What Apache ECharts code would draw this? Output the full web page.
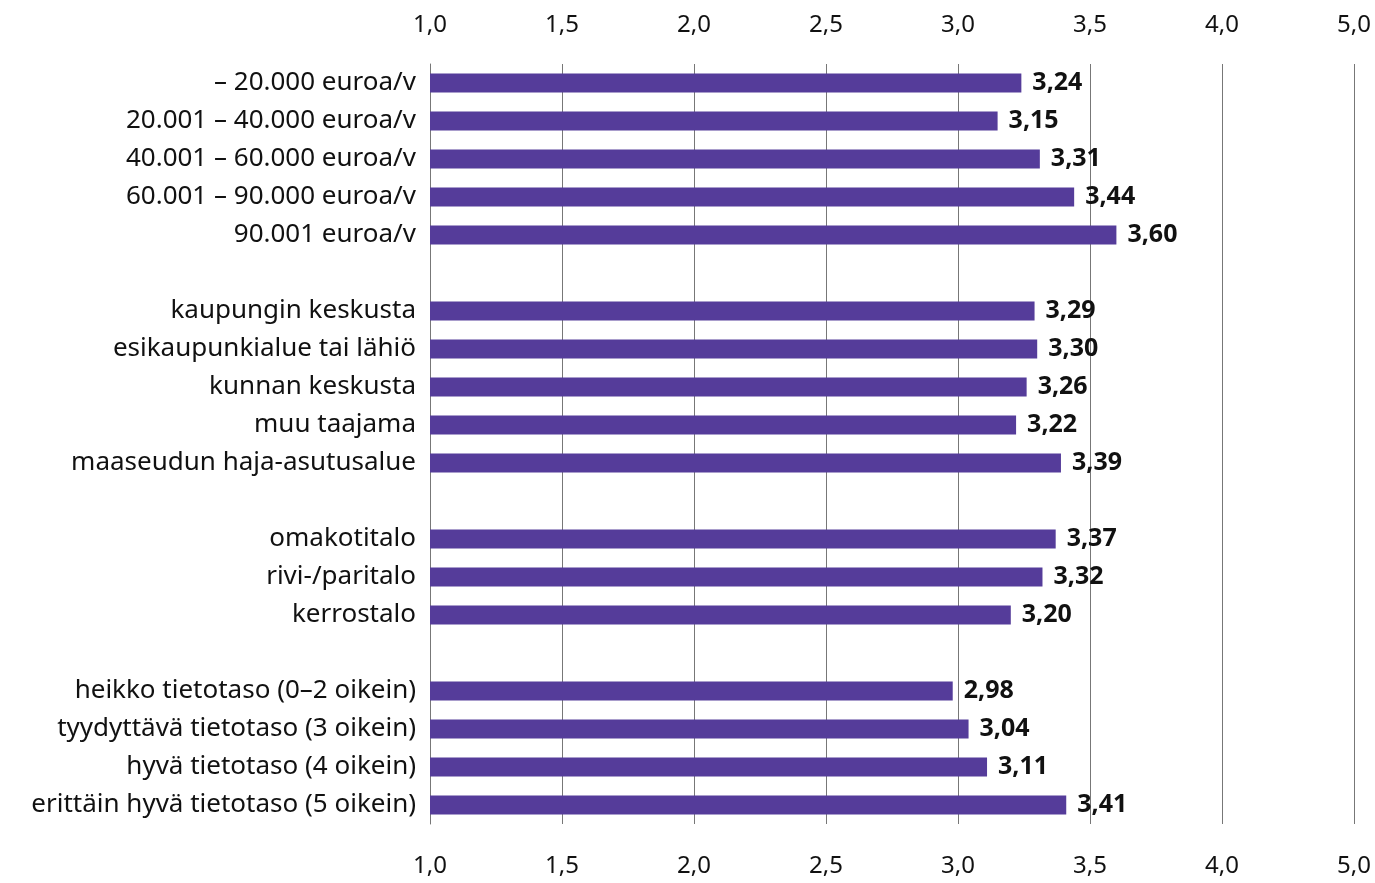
<!DOCTYPE html>
<html>
<head>
<meta charset="utf-8">
<script src="https://cdn.jsdelivr.net/npm/echarts@6/dist/echarts.min.js"></script>
<style>
html,body{margin:0;padding:0;background:#fff;}
#chart{width:1375px;height:883px;}
</style>
</head>
<body>
<div id="chart"></div>
<script>
const categories = [
  '– 20.000 euroa/v',
  '20.001 – 40.000 euroa/v',
  '40.001 – 60.000 euroa/v',
  '60.001 – 90.000 euroa/v',
  '90.001 euroa/v',
  '',
  'kaupungin keskusta',
  'esikaupunkialue tai lähiö',
  'kunnan keskusta',
  'muu taajama',
  'maaseudun haja-asutusalue',
  '',
  'omakotitalo',
  'rivi-/paritalo',
  'kerrostalo',
  '',
  'heikko tietotaso (0–2 oikein)',
  'tyydyttävä tietotaso (3 oikein)',
  'hyvä tietotaso (4 oikein)',
  'erittäin hyvä tietotaso (5 oikein)'
];
const values = [3.24, 3.15, 3.31, 3.44, 3.60, null, 3.29, 3.30, 3.26, 3.22, 3.39, null, 3.37, 3.32, 3.20, null, 2.98, 3.04, 3.11, 3.41];
const tickLabels = ['1,0', '1,5', '2,0', '2,5', '3,0', '3,5', '4,0', '5,0'];
const axisMin = 1, axisMax = 4.5, axisStep = 0.5;

const FONT = 'Noto Sans';
const tickFmt = v => {
  const i = Math.round((v - axisMin) / axisStep);
  return tickLabels[i] !== undefined ? tickLabels[i] : '';
};
const xCommon = {
  type: 'value', min: axisMin, max: axisMax, interval: axisStep,
  axisLine: { show: false }, axisTick: { show: false },
  axisLabel: { formatter: tickFmt, color: '#111', fontFamily: FONT, fontSize: 24 }
};
const chart = echarts.init(document.getElementById('chart'));
chart.setOption({
  animation: false,
  grid: { left: 430, right: 21, top: 64, bottom: 59, containLabel: false },
  xAxis: [
    Object.assign({}, xCommon, { position: 'top', axisLabel: Object.assign({}, xCommon.axisLabel, { margin: 27 }),
      splitLine: { show: true, lineStyle: { color: '#777', width: 1 } } }),
    Object.assign({}, xCommon, { position: 'bottom', axisLabel: Object.assign({}, xCommon.axisLabel, { margin: 30 }),
      splitLine: { show: false } })
  ],
  yAxis: {
    type: 'category', data: categories, inverse: true,
    axisLine: { show: true, lineStyle: { color: '#777', width: 1 } },
    axisTick: { show: false },
    axisLabel: { color: '#111', fontFamily: FONT, fontSize: 26, margin: 14 }
  },
  series: [{
    type: 'bar', xAxisIndex: 0, data: values, barWidth: 19,
    itemStyle: { color: '#553C9A' },
    label: {
      show: true, position: 'right', distance: 11,
      formatter: p => p.value == null ? '' : p.value.toFixed(2).replace('.', ','),
      color: '#111', fontFamily: FONT, fontWeight: 'bold', fontSize: 25
    }
  }]
});
</script>
</body>
</html>
